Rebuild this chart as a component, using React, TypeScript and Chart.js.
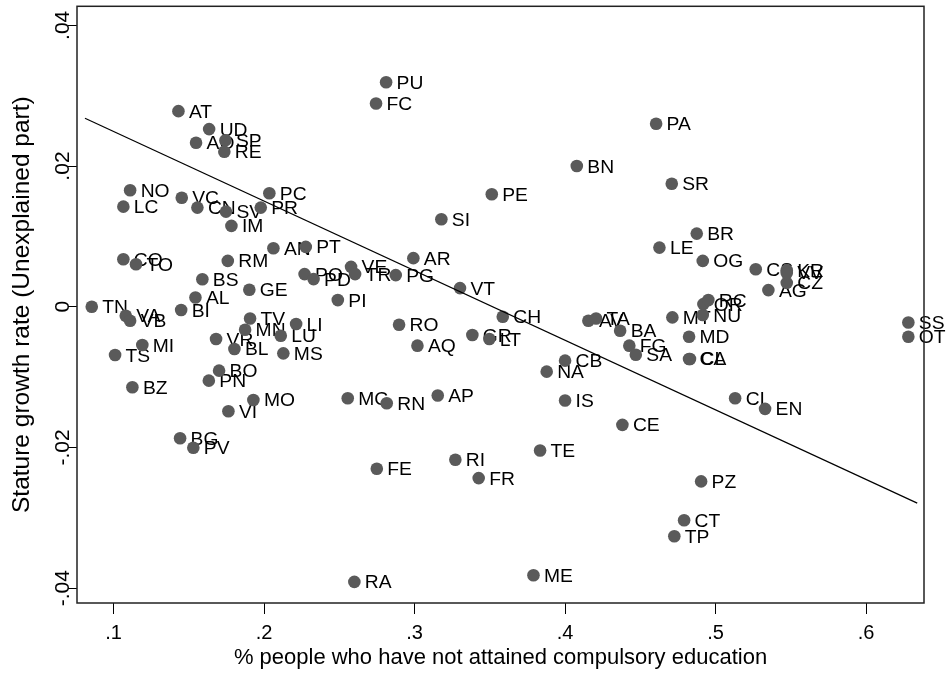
import React, { useEffect, useRef } from "react";
import { Chart, registerables } from "chart.js";

Chart.register(...registerables);

const provinces = ['AT','UD','AO','SP','RE','NO','LC','VC','CN','SV','PC','PR','IM','CO','TO','AN','PT','RM','BS','GE','AL','TN','VA','VB','BI','TV','MN','VR','BL','LI','LU','MS','MI','TS','BO','PN','BZ','MO','VI','PO','PD','BG','PV','PU','FC','PE','SI','VE','TR','PG','AR','VT','PI','RO','AQ','CH','GR','LT','MC','RN','AP','FE','RI','FR','TE','RA','ME','PA','BN','SR','BR','LE','OG','CS','AV','TA','BA','FG','SA','CB','NA','MT','MD','CA','CL','NU','OR','RC','AG','CZ','KR','VV','SS','OT','IS','CE','CI','EN','PZ','CT','TP'];

const noCompulsory = [0.1431,0.1635,0.1548,0.1743,0.1736,0.1110,0.1065,0.1453,0.1557,0.1747,0.2035,0.1978,0.1783,0.1065,0.1149,0.2062,0.2277,0.1759,0.1590,0.1902,0.1544,0.0855,0.1081,0.1110,0.1449,0.1907,0.1874,0.1681,0.1803,0.2213,0.2111,0.2128,0.1191,0.1010,0.1701,0.1633,0.1125,0.1929,0.1763,0.2269,0.2329,0.1442,0.1530,0.2811,0.2744,0.3513,0.3178,0.2578,0.2605,0.2875,0.2992,0.3302,0.2490,0.2897,0.3019,0.3586,0.3384,0.3497,0.2556,0.2815,0.3154,0.2749,0.3271,0.3426,0.3834,0.2600,0.3790,0.4605,0.4078,0.4709,0.4875,0.4627,0.4915,0.5267,0.4155,0.4206,0.4366,0.4427,0.4470,0.4000,0.3878,0.4713,0.4824,0.4824,0.4830,0.4915,0.4919,0.4952,0.5351,0.5473,0.5473,0.5473,0.6281,0.6281,0.4000,0.4381,0.5130,0.5329,0.4904,0.4791,0.4726];

const growthUnexplained = [0.0278,0.02525,0.0233,0.02364,0.02203,0.01655,0.01423,0.0155,0.01409,0.01352,0.01613,0.01409,0.01149,0.00676,0.00605,0.00832,0.00851,0.00652,0.00392,0.00241,0.00132,0.0,-0.00128,-0.00199,-0.00047,-0.00166,-0.00326,-0.00459,-0.0060,-0.00246,-0.00411,-0.00662,-0.00544,-0.00686,-0.00908,-0.0105,-0.01144,-0.01324,-0.01485,0.00464,0.00393,-0.01868,-0.02004,0.03191,0.02889,0.01599,0.01244,0.00567,0.00464,0.0045,0.00691,0.00265,0.00095,-0.00255,-0.00553,-0.00142,-0.00402,-0.00459,-0.0130,-0.01371,-0.01262,-0.02303,-0.02175,-0.02435,-0.02043,-0.0391,-0.03816,0.0260,0.0200,0.01749,0.0104,0.00841,0.00652,0.00534,-0.00199,-0.00166,-0.0034,-0.00553,-0.00681,-0.00766,-0.00922,-0.00151,-0.00426,-0.00742,-0.00742,-0.00118,0.00038,0.00095,0.00237,0.0034,0.0052,0.0048,-0.00223,-0.00426,-0.01333,-0.01678,-0.0130,-0.01451,-0.02482,-0.03035,-0.03262];

const fitX = [0.081, 0.634];
const fitY = [0.0268, -0.0279];

const xTicks = [0.1, 0.2, 0.3, 0.4, 0.5, 0.6];
const yTicks = [-0.04, -0.02, 0, 0.02, 0.04];

const FONT = "'Liberation Sans', Arial, Helvetica, sans-serif";

function fmt(v: number): string {
  const r = +v.toFixed(3);
  if (r === 0) return "0";
  return String(r).replace(/^0\./, ".").replace(/^-0\./, "-.");
}

const labelPlugin = {
  id: "pointLabels",
  beforeDatasetsDraw(chart: any) {
    const { ctx, scales } = chart;
    ctx.save();
    ctx.font = `18px ${FONT}`;
    ctx.fillStyle = "#000";
    ctx.textBaseline = "alphabetic";
    ctx.textAlign = "left";
    for (let i = 0; i < provinces.length; i++) {
      const px = scales.x.getPixelForValue(noCompulsory[i]);
      const py = scales.y.getPixelForValue(growthUnexplained[i]);
      ctx.save();
      ctx.translate(px + 10.5, py + 6.5);
      ctx.scale(1.07, 1);
      ctx.fillText(provinces[i], 0, 0);
      ctx.restore();
    }
    ctx.restore();
  },
  afterDraw(chart: any) {
    const { ctx, chartArea, scales } = chart;
    ctx.save();
    ctx.strokeStyle = "#222";
    ctx.lineWidth = 1.5;
    ctx.strokeRect(chartArea.left, chartArea.top, chartArea.right - chartArea.left, chartArea.bottom - chartArea.top);
    ctx.font = `21px ${FONT}`;
    ctx.fillStyle = "#000";
    ctx.textAlign = "center";
    ctx.textBaseline = "alphabetic";
    for (const t of scales.y.ticks) {
      const py = scales.y.getPixelForValue(t.value);
      ctx.save();
      ctx.translate(69, py);
      ctx.rotate(-Math.PI / 2);
      ctx.fillText(fmt(t.value), 0, 0);
      ctx.restore();
    }
    ctx.restore();
  },
};

export default function App() {
  const ref = useRef<HTMLCanvasElement | null>(null);
  useEffect(() => {
    if (!ref.current) return;
    const chart = new Chart(ref.current, {
      type: "scatter",
      data: {
        datasets: [
          {
            type: "line",
            data: fitX.map((x, i) => ({ x, y: fitY[i] })),
            borderColor: "#000",
            borderWidth: 1.2,
            pointRadius: 0,
            fill: false,
          } as any,
          {
            data: noCompulsory.map((x, i) => ({ x, y: growthUnexplained[i] })),
            pointRadius: 6.3,
            pointBackgroundColor: "#5a5a5a",
            pointBorderWidth: 0,
            borderWidth: 0,
          },
        ],
      },
      options: {
        responsive: false,
        animation: false,
        layout: { padding: { left: 0, top: 5, right: 23, bottom: 0 } },
        plugins: { legend: { display: false }, tooltip: { enabled: false } },
        scales: {
          x: {
            type: "linear",
            min: 0.0757,
            max: 0.6385,
            afterFit: (s: any) => { s.height = 74; },
            afterBuildTicks: (s: any) => { s.ticks = xTicks.map((v) => ({ value: v })); },
            grid: { drawOnChartArea: false, drawTicks: true, tickLength: 11, color: "#000", tickColor: "#000", tickWidth: 1 },
            border: { display: false },
            ticks: {
              font: { family: FONT, size: 20 },
              color: "#000",
              padding: 7,
              maxRotation: 0,
              callback: (v: any) => fmt(Number(v)),
            },
            title: {
              display: true,
              text: "% people who have not attained compulsory education",
              font: { family: FONT, size: 22 },
              color: "#000",
              padding: { top: 0, bottom: 6 },
            },
          },
          y: {
            type: "linear",
            min: -0.0421,
            max: 0.0427,
            afterFit: (s: any) => { s.width = 77; },
            afterBuildTicks: (s: any) => { s.ticks = yTicks.map((v) => ({ value: v })); },
            grid: { drawOnChartArea: false, drawTicks: true, tickLength: 9, color: "#000", tickColor: "#000", tickWidth: 1 },
            border: { display: false },
            ticks: { display: false },
            title: {
              display: true,
              text: "Stature growth rate (Unexplained part)",
              font: { family: FONT, size: 24.5 },
              color: "#000",
              padding: { top: 8, bottom: 0 },
            },
          },
        },
      },
      plugins: [labelPlugin],
    });
    return () => chart.destroy();
  }, []);
  return (
    <div style={{ position: "fixed", left: 0, top: 0, width: 947, height: 677, background: "#fff" }}>
      <canvas ref={ref} width={947} height={677} style={{ display: "block" }} />
    </div>
  );
}
